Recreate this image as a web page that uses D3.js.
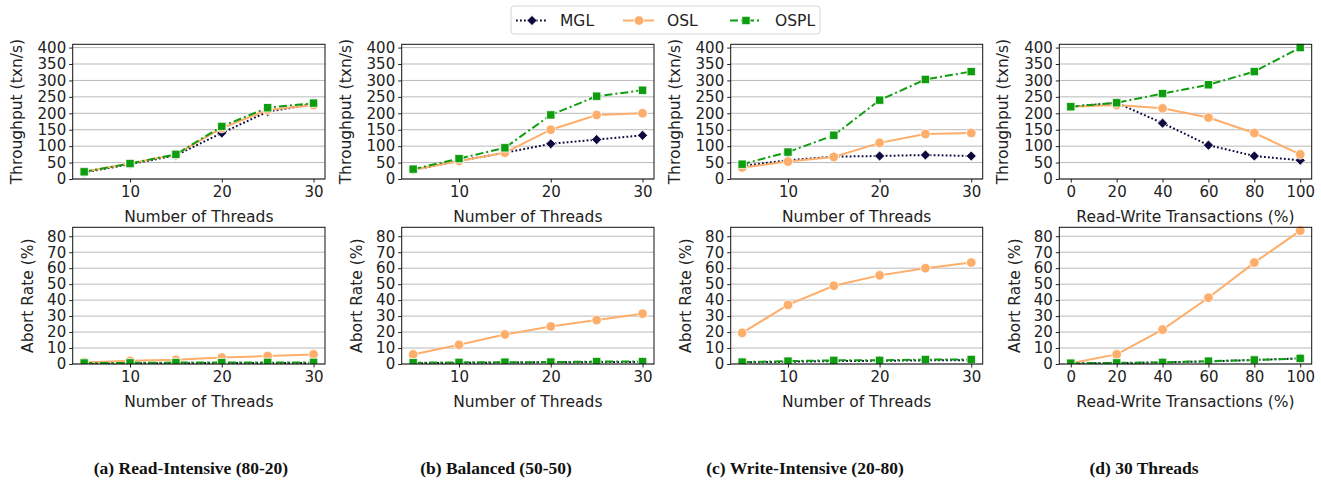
<!DOCTYPE html>
<html>
<head>
<meta charset="utf-8">
<script src="https://cdn.jsdelivr.net/npm/d3@7"></script>
<style>
  body { margin: 0; background: #fff; }
  svg { font-family: "DejaVu Sans", sans-serif; }
</style>
</head>
<body>
<svg id="chart" width="1321" height="483"></svg>
<script>
// x values
const threads = [5, 10, 15, 20, 25, 30];
const rwPct = [0, 20, 40, 60, 80, 100];
const threadTicks = [10, 20, 30];
const rwTicks = [0, 20, 40, 60, 80, 100];
const tputTicks = [0, 50, 100, 150, 200, 250, 300, 350, 400];
const abortTicks = [0, 10, 20, 30, 40, 50, 60, 70, 80];

const seriesNames = ["MGL", "OSL", "OSPL"];
const captions = ["(a) Read-Intensive (80-20)", "(b) Balanced (50-50)", "(c) Write-Intensive (20-80)", "(d) 30 Threads"];

// (a) read-intensive
const tputA_MGL = [20, 45, 72, 140, 205, 228];
const tputA_OSL = [22, 47, 75, 155, 210, 225];
const tputA_OSPL = [22, 47, 75, 160, 217, 231];
const abortA_MGL = [0.3, 0.4, 0.5, 0.6, 0.6, 0.7];
const abortA_OSL = [1, 2, 2.6, 4, 5, 6];
const abortA_OSPL = [0.6, 0.7, 0.9, 0.9, 1, 1];

// (b) balanced
const tputB_MGL = [28, 55, 80, 107, 120, 133];
const tputB_OSL = [28, 55, 80, 150, 195, 200];
const tputB_OSPL = [30, 62, 95, 195, 252, 270];
const abortB_MGL = [0.5, 0.7, 0.9, 1.1, 1.2, 1.3];
const abortB_OSL = [6, 12, 18.5, 23.5, 27.5, 31.5];
const abortB_OSPL = [0.8, 1, 1.1, 1.2, 1.5, 1.5];

// (c) write-intensive
const tputC_MGL = [40, 57, 68, 70, 73, 70];
const tputC_OSL = [35, 53, 67, 110, 137, 140];
const tputC_OSPL = [45, 82, 133, 240, 303, 327];
const abortC_MGL = [1, 1.4, 1.8, 2, 2.3, 2.4];
const abortC_OSL = [19.5, 37, 49, 55.5, 60, 63.5];
const abortC_OSPL = [1.2, 1.8, 2.3, 2.3, 2.8, 2.8];

// (d) 30 threads
const tputD_MGL = [220, 232, 170, 103, 70, 57];
const tputD_OSL = [220, 225, 215, 187, 140, 75];
const tputD_OSPL = [220, 232, 260, 287, 327, 400];
const abortD_MGL = [0.3, 0.5, 1, 1.6, 2.5, 3.5];
const abortD_OSL = [0.5, 6, 21.5, 41.5, 63.5, 83.5];
const abortD_OSPL = [0.5, 0.7, 1, 1.8, 2.5, 3.5];

const colors = { MGL: "#0c0a3e", OSL: "#fdae6b", OSPL: "#0f9d10" };
const dashes = { MGL: "1.8,2.2", OSL: null, OSPL: "8,3,2,3" };

const columns = [
  { left: 72.7, right: 325, x: threads, xTicks: threadTicks, xLabel: "Number of Threads", xDom: [3.75, 31.25], cap: 191,
    tput: [tputA_MGL, tputA_OSL, tputA_OSPL], abort: [abortA_MGL, abortA_OSL, abortA_OSPL] },
  { left: 401.7, right: 654, x: threads, xTicks: threadTicks, xLabel: "Number of Threads", xDom: [3.75, 31.25], cap: 496,
    tput: [tputB_MGL, tputB_OSL, tputB_OSPL], abort: [abortB_MGL, abortB_OSL, abortB_OSPL] },
  { left: 730.7, right: 982.7, x: threads, xTicks: threadTicks, xLabel: "Number of Threads", xDom: [3.75, 31.25], cap: 805,
    tput: [tputC_MGL, tputC_OSL, tputC_OSPL], abort: [abortC_MGL, abortC_OSL, abortC_OSPL] },
  { left: 1059.3, right: 1311.7, x: rwPct, xTicks: rwTicks, xLabel: "Read-Write Transactions (%)", xDom: [-5, 105], cap: 1144,
    tput: [tputD_MGL, tputD_OSL, tputD_OSPL], abort: [abortD_MGL, abortD_OSL, abortD_OSPL] }
];

const rows = [
  { top: 44.3, bottom: 179, key: "tput", yDom: [0, 410], yTicks: tputTicks, yLabel: "Throughput (txn/s)", yOff: 56.5 },
  { top: 227.3, bottom: 364, key: "abort", yDom: [0, 85.6], yTicks: abortTicks, yLabel: "Abort Rate (%)", yOff: 45 }
];

const svg = d3.select("#chart");

function marker(g, name, cx, cy) {
  if (name === "MGL") {
    g.append("path")
      .attr("d", d3.symbol(d3.symbolSquare, 52)())
      .attr("transform", `translate(${cx},${cy}) rotate(45)`)
      .attr("fill", colors.MGL).attr("stroke", "#fff").attr("stroke-width", 0.8);
  } else if (name === "OSL") {
    g.append("circle").attr("cx", cx).attr("cy", cy).attr("r", 4.8)
      .attr("fill", colors.OSL).attr("stroke", "#fff").attr("stroke-width", 0.8);
  } else {
    g.append("path")
      .attr("d", d3.symbol(d3.symbolSquare, 70)())
      .attr("transform", `translate(${cx},${cy})`)
      .attr("fill", colors.OSPL).attr("stroke", "#fff").attr("stroke-width", 0.8);
  }
}

columns.forEach(col => {
  rows.forEach(row => {
    const x = d3.scaleLinear().domain(col.xDom).range([col.left, col.right]);
    const y = d3.scaleLinear().domain(row.yDom).range([row.bottom, row.top]);
    const g = svg.append("g");

    // grid
    g.append("g").selectAll("line").data(row.yTicks).join("line")
      .attr("x1", col.left).attr("x2", col.right)
      .attr("y1", d => y(d)).attr("y2", d => y(d))
      .attr("stroke", "#b9b9b9").attr("stroke-width", 1);

    // axes
    const ax = g.append("g").attr("transform", `translate(0,${row.bottom})`)
      .call(d3.axisBottom(x).tickValues(col.xTicks).tickSize(3.5).tickPadding(3.5));
    const ay = g.append("g").attr("transform", `translate(${col.left},0)`)
      .call(d3.axisLeft(y).tickValues(row.yTicks).tickSize(3.5).tickPadding(3));
    [ax, ay].forEach(a => {
      a.select(".domain").remove();
      a.selectAll("text").attr("font-size", 15).attr("fill", "#222").attr("font-family", "DejaVu Sans");
      a.selectAll("line").attr("stroke", "#222");
    });

    g.append("text")
      .attr("x", (col.left + col.right) / 2).attr("y", row.bottom + 43)
      .attr("text-anchor", "middle").attr("font-size", 15.5).attr("fill", "#222")
      .text(col.xLabel);
    g.append("text")
      .attr("transform", `translate(${col.left - row.yOff},${(row.top + row.bottom) / 2}) rotate(-90)`)
      .attr("text-anchor", "middle").attr("dy", "0.35em").attr("font-size", 15.5).attr("fill", "#222")
      .text(row.yLabel);

    // series
    const clipId = `clip-${Math.round(col.left)}-${Math.round(row.top)}`;
    g.append("clipPath").attr("id", clipId).append("rect")
      .attr("x", col.left).attr("y", row.top - 8)
      .attr("width", col.right - col.left).attr("height", row.bottom - row.top + 8);
    const plot = g.append("g").attr("clip-path", `url(#${clipId})`);
    col[row.key].forEach((vals, i) => {
      const name = seriesNames[i];
      const pts = col.x.map((xv, j) => [x(xv), y(vals[j])]);
      plot.append("path").attr("d", d3.line()(pts))
        .attr("fill", "none").attr("stroke", colors[name]).attr("stroke-width", 2)
        .attr("stroke-dasharray", dashes[name]);
      pts.forEach(p => marker(plot, name, p[0], p[1]));
    });

    // frame
    g.append("rect").attr("x", col.left).attr("y", row.top)
      .attr("width", col.right - col.left).attr("height", row.bottom - row.top)
      .attr("fill", "none").attr("stroke", "#111").attr("stroke-width", 1);
  });

  svg.append("text").attr("x", col.cap).attr("y", 474)
    .attr("text-anchor", "middle").attr("font-family", "Liberation Serif, serif")
    .attr("font-weight", "bold").attr("font-size", 17.5).attr("fill", "#111")
    .text(captions[columns.indexOf(col)]);
});

// legend
const lg = svg.append("g");
lg.append("rect").attr("x", 511).attr("y", 6).attr("width", 309).attr("height", 28).attr("rx", 3)
  .attr("fill", "#fff").attr("stroke", "#d6d6d6");
const legendX = [516, 623, 730];
seriesNames.forEach((name, i) => {
  const x0 = legendX[i];
  lg.append("line").attr("x1", x0).attr("x2", x0 + 31).attr("y1", 20.5).attr("y2", 20.5)
    .attr("stroke", colors[name]).attr("stroke-width", 2).attr("stroke-dasharray", dashes[name]);
  marker(lg, name, x0 + 16, 20.5);
  lg.append("text").attr("x", x0 + 44 + (i === 2 ? 1 : 0)).attr("y", 20.5).attr("dy", "0.35em")
    .attr("font-size", 15.5).attr("fill", "#222").text(name);
});
</script>
</body>
</html>
